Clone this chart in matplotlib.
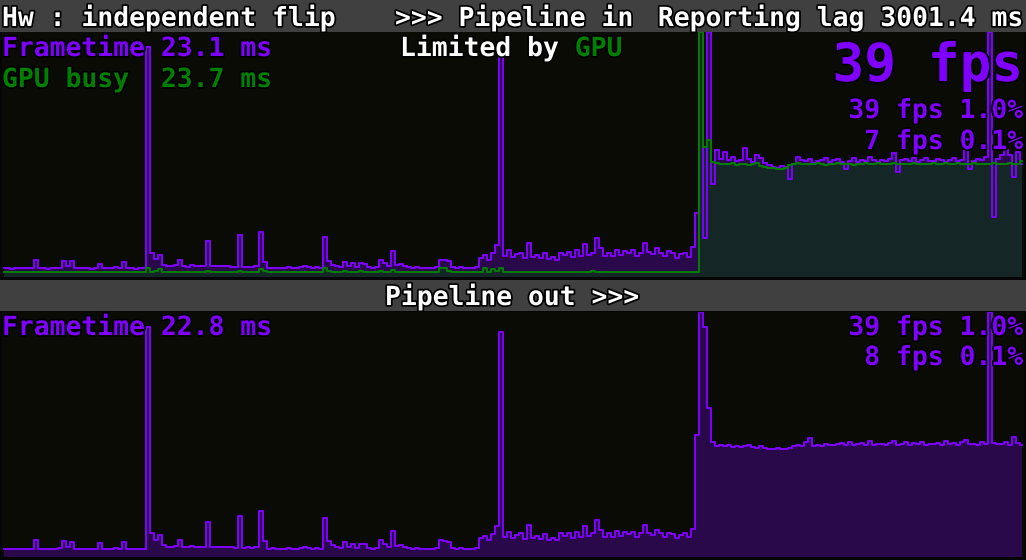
import numpy as np
import matplotlib
matplotlib.use('Agg')
import matplotlib.pyplot as plt
import matplotlib.patheffects as pe

W, H = 1026, 560

# frametime (ms) of the "pipeline in" graph, one value per sample
ft_in = [
    1.8, 1.9, 1.7, 1.8, 1.8, 1.9, 1.8, 1.8, 3.4, 1.8,
    1.8, 1.7, 1.9, 1.8, 1.9, 3.3, 2.2, 3.2, 1.8, 1.9,
    1.8, 1.9, 1.7, 1.8, 2.7, 1.9, 1.8, 1.8, 2.0, 1.9,
    3.0, 1.9, 1.8, 1.7, 1.9, 1.9, 47.0, 5.0, 3.6, 4.5,
    2.5, 2.2, 2.3, 2.4, 3.5, 2.2, 2.1, 2.4, 2.3, 2.3,
    2.2, 7.4, 2.2, 2.3, 2.3, 2.3, 2.2, 2.1, 2.0, 8.6,
    2.0, 2.1, 2.0, 2.2, 9.2, 3.0, 1.8, 1.9, 1.8, 1.8,
    1.8, 2.0, 1.9, 1.8, 2.0, 2.2, 2.0, 1.9, 2.1, 1.9,
    8.2, 3.2, 2.5, 2.2, 2.0, 3.1, 2.2, 2.8, 2.0, 2.8,
    2.7, 2.0, 1.9, 2.0, 3.5, 2.8, 2.2, 5.3, 2.4, 2.6,
    2.2, 2.0, 1.9, 2.0, 1.9, 1.9, 1.8, 1.9, 2.0, 3.5,
    3.5, 3.2, 2.0, 1.9, 2.0, 1.8, 1.9, 1.8, 2.0, 3.9,
    4.5, 3.5, 4.8, 6.5, 45.0, 4.2, 5.5, 4.0, 4.6, 5.0,
    3.8, 7.0, 4.0, 4.5, 3.9, 4.8, 3.6, 4.0, 3.5, 5.0,
    4.4, 5.2, 4.0, 5.5, 4.3, 6.8, 4.5, 5.0, 8.0, 6.0,
    4.2, 5.0, 4.3, 5.6, 4.5, 5.4, 4.8, 5.5, 4.2, 5.0,
    7.0, 5.1, 4.6, 6.0, 5.0, 4.2, 5.3, 4.8, 3.9, 4.6,
    5.0, 4.1, 6.2, 13.0, 50.0, 8.0, 50.0, 19.0, 26.0, 24.0,
    25.6, 23.8, 24.5, 23.6, 23.8, 26.4, 24.0, 23.5, 25.0, 24.2,
    23.2, 22.8, 22.5, 22.3, 22.6, 22.4, 19.9, 23.0, 24.5, 23.8,
    23.6, 24.0, 23.2, 23.6, 23.9, 24.3, 23.5, 23.8, 24.1, 23.4,
    22.0, 23.7, 24.2, 23.5, 23.9, 23.6, 24.4, 23.8, 23.5, 23.9,
    23.6, 24.0, 25.4, 21.5, 23.8, 24.1, 23.6, 24.2, 23.5, 23.9,
    24.3, 23.7, 23.6, 24.0, 23.8, 23.5, 23.9, 24.2, 23.6, 23.8,
    26.0, 22.0, 23.7, 24.1, 23.8, 24.5, 50.0, 12.3, 24.0, 25.0,
    26.0, 24.8, 20.5, 25.5, 23.1,
]

# GPU busy (ms)
gpu_busy = [
    1.0, 1.0, 1.1, 1.0, 1.0, 1.0, 1.1, 1.0, 1.0, 1.0,
    1.0, 1.0, 1.1, 1.1, 1.0, 1.0, 1.0, 1.0, 1.0, 1.1,
    1.1, 1.0, 1.0, 1.0, 1.0, 1.0, 1.1, 1.1, 1.0, 1.0,
    1.0, 1.0, 1.0, 1.0, 1.0, 1.0, 1.9, 1.0, 1.2, 1.6,
    1.0, 1.0, 1.0, 1.0, 1.1, 1.0, 1.0, 1.0, 1.1, 1.1,
    1.1, 1.2, 1.0, 1.0, 1.0, 1.0, 1.1, 1.0, 1.0, 1.3,
    1.0, 1.0, 1.0, 1.0, 1.6, 1.2, 1.0, 1.0, 1.0, 1.0,
    1.0, 1.1, 1.0, 1.0, 1.0, 1.1, 1.0, 1.0, 1.0, 1.0,
    1.8, 1.2, 1.0, 1.0, 1.1, 1.3, 1.0, 1.1, 1.0, 1.2,
    1.1, 1.0, 1.0, 1.0, 1.2, 1.1, 1.0, 1.4, 1.0, 1.1,
    1.0, 1.0, 1.0, 1.0, 1.0, 1.0, 1.0, 1.0, 1.0, 1.9,
    1.8, 1.2, 1.1, 1.1, 1.1, 1.1, 1.1, 1.0, 1.0, 1.0,
    1.8, 1.1, 1.7, 1.2, 1.8, 1.0, 1.0, 1.0, 1.0, 1.0,
    1.0, 1.0, 1.0, 1.1, 1.0, 1.0, 1.0, 1.0, 1.0, 1.0,
    1.0, 1.0, 1.0, 1.0, 1.0, 1.1, 1.0, 1.2, 1.0, 1.0,
    1.0, 1.1, 1.0, 1.0, 1.0, 1.0, 1.0, 1.0, 1.0, 1.0,
    1.0, 1.1, 1.0, 1.0, 1.0, 1.0, 1.0, 1.0, 1.0, 1.0,
    1.0, 1.0, 1.0, 1.0, 50.0, 26.5, 28.0, 23.5, 23.2, 23.0,
    23.1, 23.0, 23.2, 22.8, 23.0, 23.1, 22.9, 23.0, 23.2, 22.7,
    22.4, 22.3, 22.2, 22.0, 22.1, 22.3, 22.8, 23.0, 23.2, 23.1,
    23.0, 23.1, 23.0, 23.2, 23.0, 22.9, 23.1, 23.0, 23.2, 23.1,
    23.0, 23.1, 22.9, 23.0, 23.1, 23.3, 23.0, 23.1, 23.2, 23.0,
    23.1, 23.0, 23.2, 23.1, 23.0, 23.1, 23.0, 23.2, 23.1, 23.0,
    23.1, 23.0, 23.2, 23.0, 23.1, 23.3, 23.0, 23.1, 23.2, 23.0,
    23.1, 23.0, 23.2, 23.1, 23.0, 23.1, 23.0, 23.2, 23.1, 23.0,
    23.1, 23.3, 23.0, 23.1, 23.7,
]

# frametime (ms) of the "pipeline out" graph
ft_out = [
    1.6, 1.7, 1.6, 1.6, 1.7, 1.6, 1.7, 1.6, 3.5, 1.7,
    1.6, 1.6, 1.7, 1.6, 1.8, 3.3, 2.0, 3.0, 1.7, 1.6,
    1.7, 1.6, 1.6, 1.7, 2.8, 1.7, 1.6, 1.7, 1.8, 1.7,
    3.0, 1.7, 1.6, 1.6, 1.7, 1.7, 47.0, 4.8, 3.4, 4.4,
    2.4, 2.0, 2.1, 2.2, 3.4, 2.1, 2.0, 2.2, 2.1, 2.1,
    2.1, 7.2, 2.0, 2.1, 2.1, 2.1, 2.0, 2.0, 1.9, 8.4,
    1.9, 2.0, 1.9, 2.0, 9.4, 3.2, 1.7, 1.8, 1.7, 1.7,
    1.7, 1.8, 1.7, 1.6, 1.8, 2.0, 1.8, 1.7, 1.9, 1.7,
    8.0, 3.3, 2.4, 2.0, 1.9, 3.0, 2.0, 2.6, 1.8, 2.7,
    2.6, 1.8, 1.7, 1.8, 3.4, 2.7, 2.0, 5.3, 2.2, 2.4,
    2.0, 1.8, 1.7, 1.8, 1.7, 1.7, 1.6, 1.7, 1.8, 3.5,
    3.3, 3.0, 1.8, 1.7, 1.8, 1.6, 1.7, 1.6, 1.8, 3.8,
    4.3, 3.4, 4.7, 6.3, 46.0, 4.0, 5.2, 3.8, 4.4, 4.8,
    3.6, 6.5, 3.8, 4.3, 3.7, 4.6, 3.5, 3.9, 3.4, 4.8,
    4.2, 5.0, 3.9, 5.2, 4.1, 6.4, 4.3, 4.8, 7.5, 5.6,
    4.0, 4.8, 4.1, 5.3, 4.3, 5.1, 4.6, 5.2, 4.0, 4.8,
    6.5, 4.9, 4.4, 5.6, 4.8, 4.0, 5.0, 4.6, 3.8, 4.4,
    4.8, 4.0, 5.8, 25.0, 50.0, 47.0, 30.5, 23.5, 22.6, 22.8,
    22.6, 22.8, 22.5, 22.7, 22.4, 22.6, 22.8, 22.5, 22.3, 22.6,
    22.2, 22.1, 22.0, 22.2, 22.1, 22.0, 22.3, 22.6, 22.8, 22.7,
    23.5, 24.2, 22.6, 22.8, 22.7, 23.0, 22.9, 22.8, 23.1, 23.2,
    22.9, 23.4, 22.8, 23.0, 23.2, 22.9, 23.6, 22.8, 23.0, 23.1,
    22.8, 23.2, 23.6, 22.9, 23.0, 23.4, 22.8, 23.2, 23.0, 23.5,
    22.9, 23.1, 23.0, 23.3, 22.8, 23.6, 23.0, 23.2, 22.9, 23.4,
    23.8, 23.0, 23.1, 22.9, 23.5, 23.0, 50.0, 23.2, 23.0, 23.1,
    23.4, 22.9, 24.4, 23.2, 22.8,
]

BG = '#0b0b06'
HDR = '#404040'
PURPLE = '#7f00ff'
PURPLE_FILL = '#29094a'
GREEN = '#008000'
TEAL = '#152626'
MONO = 'DejaVu Sans Mono'


def px_rect(x0, y0, x1, y1):
    return [x0 / W, 1 - y1 / H, (x1 - x0) / W, (y1 - y0) / H]


def bare(ax, color):
    ax.set_facecolor(color)
    ax.set_xticks([])
    ax.set_yticks([])
    for s in ax.spines.values():
        s.set_visible(False)


def txt(x, y, s, color, size=19, ha='left'):
    fig.text(x / W, 1 - y / H, s, color=color, fontsize=size, ha=ha,
             va='baseline', family=MONO, weight='bold',
             path_effects=[pe.withStroke(linewidth=2.5, foreground='black')])


fig = plt.figure(figsize=(W / 100, H / 100), dpi=100, facecolor='#050505')

hdr1 = fig.add_axes(px_rect(0, 0, W, 32))
bare(hdr1, HDR)
hdr2 = fig.add_axes(px_rect(0, 280, W, 311))
bare(hdr2, HDR)

top = fig.add_axes(px_rect(2, 32, 1024, 277))
bot = fig.add_axes(px_rect(2, 312, 1024, 557))

n = len(ft_in)
for ax in (top, bot):
    bare(ax, BG)
    ax.set_xlim(-0.5, n - 0.5)
    ax.set_ylim(0, 50)

# upper graph: frametime, then GPU busy on top
x = np.arange(len(ft_in))
top.fill_between(x, ft_in, step='mid', color=PURPLE_FILL, lw=0)
top.step(x, ft_in, where='mid', color=PURPLE, lw=1.4)
xg = np.arange(len(gpu_busy))
top.fill_between(xg, gpu_busy, step='mid', color=TEAL, lw=0)
top.step(x, ft_in, where='mid', color=PURPLE, lw=1.4, alpha=0.4)
top.step(xg, gpu_busy, where='mid', color=GREEN, lw=1.4)

# lower graph
xo = np.arange(len(ft_out))
bot.fill_between(xo, ft_out, step='mid', color=PURPLE_FILL, lw=0)
bot.step(xo, ft_out, where='mid', color=PURPLE, lw=1.4)

adv = 19 * 100 / 72 * 0.6021

txt(2, 26, 'Hw : independent flip', 'white')
txt(395, 26, '>>> Pipeline in', 'white')
txt(1023, 26, 'Reporting lag 3001.4 ms', 'white', ha='right')

txt(2, 56, 'Frametime 23.1 ms', PURPLE)
txt(2, 87, 'GPU busy  23.7 ms', GREEN)
txt(400, 56, 'Limited by ', 'white')
txt(400 + 11 * adv, 56, 'GPU', GREEN)
txt(1023, 81, '39 fps', PURPLE, size=38, ha='right')
txt(1023, 118, '39 fps 1.0%', PURPLE, ha='right')
txt(1023, 149, '7 fps 0.1%', PURPLE, ha='right')

txt(385, 305, 'Pipeline out >>>', 'white')
txt(2, 335, 'Frametime 22.8 ms', PURPLE)
txt(1023, 335, '39 fps 1.0%', PURPLE, ha='right')
txt(1023, 365, '8 fps 0.1%', PURPLE, ha='right')

fig.savefig('out.png', dpi=100, facecolor=fig.get_facecolor())
